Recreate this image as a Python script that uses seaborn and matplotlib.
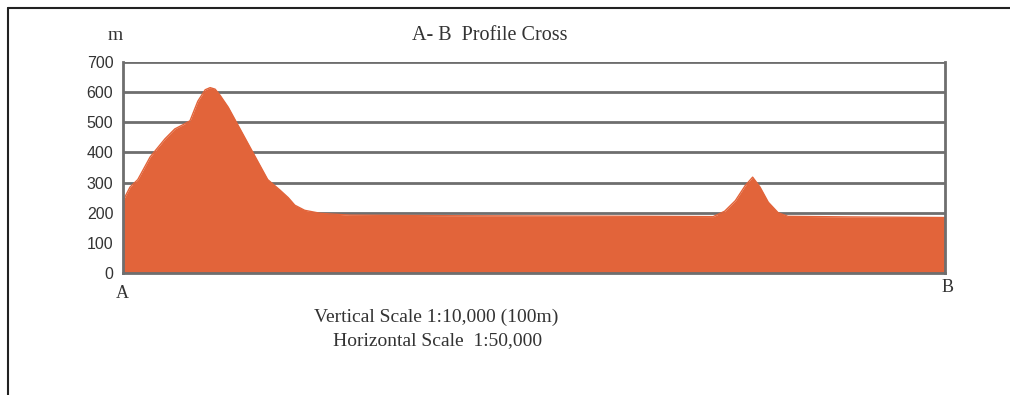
import numpy as np
import pandas as pd
import matplotlib
matplotlib.use('Agg')
from matplotlib import pyplot as plt
from matplotlib.lines import Line2D
import seaborn as sns

# profile: distance along A-B (% of section), elevation (m)
distance = [0, 0.85, 1.8, 3.3, 5.1, 6.3, 7.3, 8.15, 9.1, 10.0, 10.6, 11.2, 11.8,
            12.8, 14.2, 16.1, 17.6, 19.1, 20.1, 20.9, 22.1, 24.0, 27.6, 39.8,
            51.9, 64.1, 71.8, 73.2, 74.5, 75.7, 76.6, 77.5, 78.5, 79.7, 80.9,
            88.4, 100]
elevation = [240, 285, 310, 385, 445, 478, 492, 505, 570, 608, 615, 610, 590,
             550, 480, 385, 310, 275, 250, 225, 208, 198, 192, 190,
             189, 188, 187, 205, 240, 290, 318, 285, 235, 200, 188,
             186, 184]
yticks = [0, 100, 200, 300, 400, 500, 600, 700]

df = pd.DataFrame({'distance': distance, 'elevation': elevation})

sns.set_style('white')
plt.rcParams['font.family'] = ['Liberation Serif', 'DejaVu Serif']

fig = plt.figure(figsize=(10.10, 3.95), dpi=100)
ax = fig.add_axes([0.1218, 0.3089, 0.8138, 0.5341])

fill_col = '#e2643a'
grid_col = '#6e6e6e'
sns.lineplot(data=df, x='distance', y='elevation', ax=ax, color=fill_col, lw=1)
ax.fill_between(df['distance'], df['elevation'], color=fill_col, lw=0, zorder=2)

ax.set_xlim(0, 100)
ax.set_ylim(0, 700)
ax.set_yticks(yticks)
ax.set_yticklabels([str(t) for t in yticks], family='Liberation Sans',
                   fontsize=11.5, color='#333333')
ax.set_xticks([])
ax.tick_params(axis='y', length=0, pad=7)
for t in yticks[1:]:
    ax.axhline(t, color=grid_col, lw=2, zorder=1)
ax.set_xlabel('')
ax.set_ylabel('')
for side in ['left', 'bottom', 'right']:
    ax.spines[side].set_color(grid_col)
    ax.spines[side].set_linewidth(2)
ax.spines['top'].set_visible(False)

# labels around the section
txt = '#333333'
fig.text(115/1010, 1 - 35/395, 'm', ha='center', va='center', fontsize=14, color=txt)
fig.text(490/1010, 1 - 35/395, 'A- B  Profile Cross', ha='center', va='center',
         fontsize=14.5, color=txt)
fig.text(122/1010, 1 - 294/395, 'A', ha='center', va='center', fontsize=13, color=txt)
fig.text(948/1010, 1 - 288/395, 'B', ha='center', va='center', fontsize=13, color=txt)
fig.text(436/1010, 1 - 317/395, 'Vertical Scale 1:10,000 (100m)', ha='center',
         va='center', fontsize=14, color=txt)
fig.text(438/1010, 1 - 341/395, 'Horizontal Scale  1:50,000', ha='center',
         va='center', fontsize=14, color=txt)

# outer frame (top and left only)
fig.add_artist(Line2D([8/1010, 1], [1 - 8/395, 1 - 8/395], color='#222222', lw=1.5,
                      transform=fig.transFigure))
fig.add_artist(Line2D([8/1010, 8/1010], [0, 1 - 8/395], color='#222222', lw=1.5,
                      transform=fig.transFigure))

plt.savefig('out.png', dpi=100)
